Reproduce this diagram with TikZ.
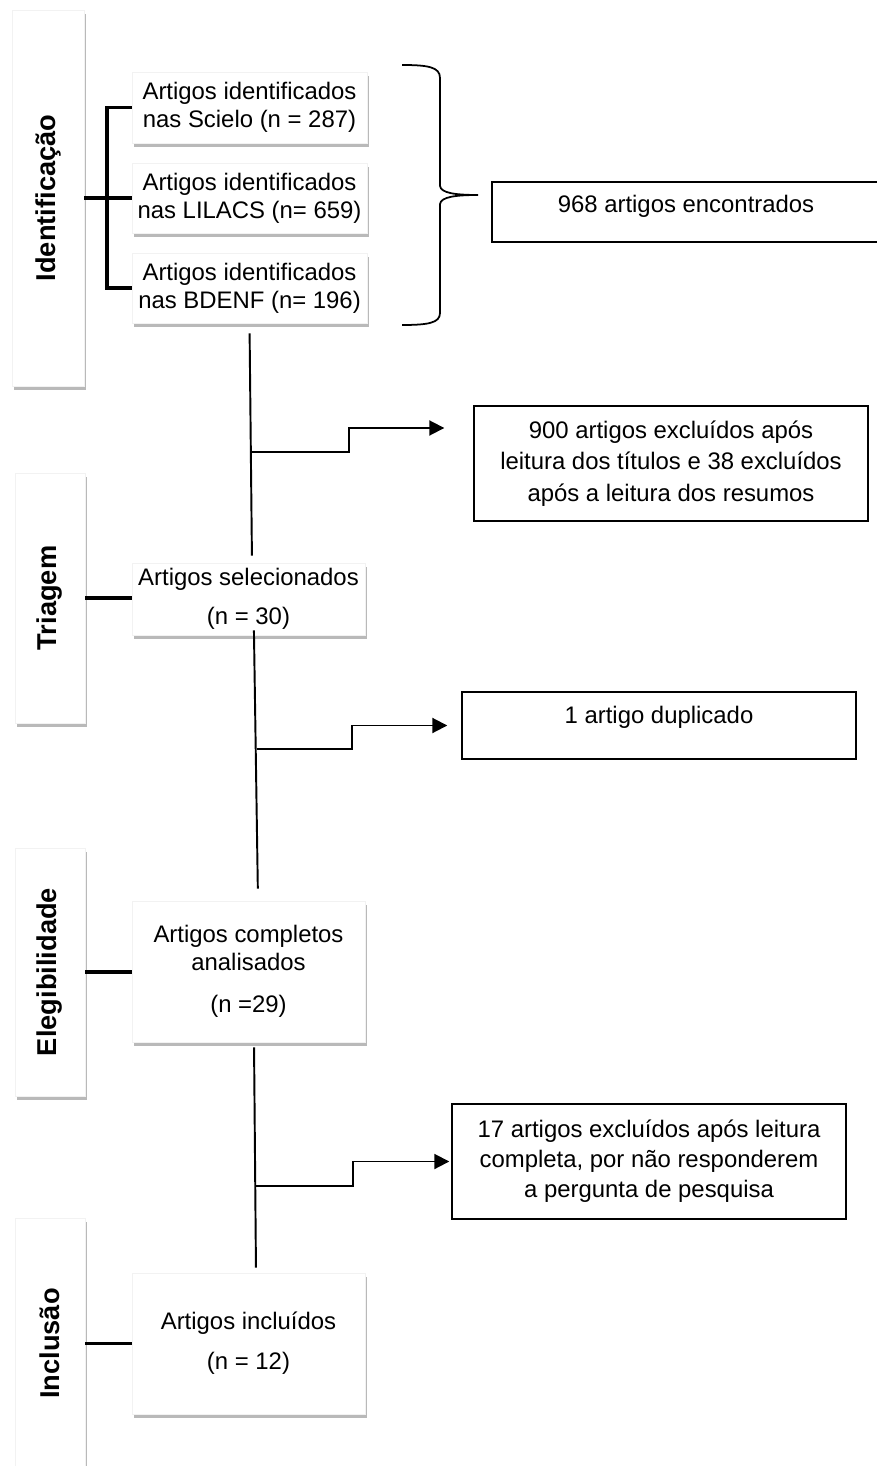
\documentclass[tikz,border=0pt]{standalone}
\usepackage{fontspec}
\setmainfont{Liberation Sans}
\usetikzlibrary{arrows.meta,positioning,shadows}
\tikzset{
  phase/.style ={fill=white, draw=black!5, minimum width=14mm, inner sep=0pt,
                 drop shadow={shadow xshift=0.4mm, shadow yshift=-0.8mm,
                 fill=black!50, opacity=0.55}},
  phtxt/.style ={rotate=90, inner sep=0pt,
                 font=\fontsize{15.5}{18}\selectfont\bfseries},
  src/.style   ={fill=white, draw=black!5, minimum width=47mm, inner sep=0pt,
                 align=center, font=\fontsize{13.6}{16}\selectfont,
                 drop shadow={shadow xshift=0.4mm, shadow yshift=-0.8mm,
                 fill=black!50, opacity=0.55}},
  outbox/.style={draw, line width=0.8pt, minimum width=78.8mm, inner sep=0pt,
                 align=center, font=\fontsize{13.6}{16}\selectfont},
  bus/.style   ={line width=2.2pt},
  flow/.style  ={line width=1.1pt},
  exit/.style  ={-{Triangle[length=3mm,width=3mm]}, line width=1.1pt},
  brc/.style   ={line width=1pt},
}
\begin{document}
\begin{tikzpicture}[x=0.2mm, y=-0.2mm]
  \useasboundingbox (0,0) rectangle (876,1466);
  % ---- phase column
  \node[phase, minimum width=14.4mm, minimum height=75.2mm] (pId) at (48,198) {};
  \node[phtxt] (tId) at (pId.center) {Identificação};
  \node[phase, minimum height=50mm] (pTri) at (50,598) {};
  \node[phtxt] (tTri) at (pTri.center) {Triagem};
  \node[phase, minimum height=49.6mm] (pEle) at (50,972) {};
  \node[phtxt] (tEle) at (pEle.center) {Elegibilidade};
  \node[phase, minimum height=52.4mm] (pInc) at (50,1349) {};
  \node[phtxt] (tInc) at (50,1343.5) {Inclusão};
  % ---- identification: three databases
  \node[src, minimum height=14.2mm] (sci) at (249.5,107.5)
    {Artigos identificados\\nas Scielo (n = 287)};
  \node[src, minimum height=14mm] (lil) at (249.5,198)
    {Artigos identificados\\nas LILACS (n= 659)};
  \node[src, minimum height=14mm] (bde) at (249.5,288)
    {Artigos identificados\\nas BDENF (n= 196)};
  \coordinate (jId) at (107,198);
  \draw[bus] (pId.east) -- (lil.west);
  \draw[bus] (sci.west) -| (jId) |- (bde.west);
  \draw[brc] (402,65) .. controls (428,65) and (440,67) .. (440,78)
    -- (440,186) .. controls (441,193) and (455,195) .. (478,195)
    .. controls (455,195) and (441,197) .. (440,204)
    -- (440,313) .. controls (440,323) and (428,325) .. (402,325);
  \node[outbox, minimum width=77.6mm, minimum height=12mm,
        text height=9.9pt, text depth=9.7pt] (fnd) at (686,212)
    {968 artigos encontrados};
  % ---- screening
  \node[src, minimum width=46.6mm, minimum height=14.4mm] (sel) at (248.5,599)
    {Artigos selecionados\\[6.1pt](n = 30)};
  \draw[bus] (pTri.east) -- (pTri.east -| sel.west);
  \node[outbox, minimum height=23mm] (exc1) at (671,463.5)
    {900 artigos excluídos após\\[1.9pt]leitura dos títulos e 38 excluídos\\[1.9pt]após a leitura dos resumos};
  \draw[flow, shorten <=2mm, shorten >=1.4mm] (bde.south) -- ([xshift=0.7mm]sel.north);
  \coordinate (j1) at (250.5,452);
  \coordinate (k1) at (349,428);
  \draw[exit, shorten >=5.8mm] (j1) -| (k1) -- (k1 -| exc1.west);
  % ---- eligibility
  \node[src, minimum width=46.6mm, minimum height=28.2mm] (com) at (248.5,971.5)
    {Artigos completos\\analisados\\[7.8pt](n =29)};
  \draw[bus] (pEle.east) -- (pEle.east -| com.west);
  \node[outbox, minimum height=13.4mm,
        text height=9.9pt, text depth=12.5pt] (dup) at (659,725.5)
    {1 artigo duplicado};
  \draw[flow, shorten <=-1mm, shorten >=2.4mm] ([xshift=1.1mm]sel.south) -- ([xshift=1.9mm]com.north);
  \coordinate (j2) at (256.5,749);
  \coordinate (k2) at (352,725.5);
  \draw[exit, shorten >=2.8mm] (j2) -| (k2) -- (dup.west);
  % ---- inclusion
  \node[src, minimum width=46.6mm, minimum height=28.2mm] (inc) at (248.5,1343.5)
    {Artigos incluídos\\[6.7pt](n = 12)};
  \draw[bus] (pInc.east |- inc.west) -- (inc.west);
  \node[outbox, minimum height=23mm] (exc3) at (649,1161.5)
    {17 artigos excluídos após leitura\\[1pt]completa, por não responderem\\[1pt]a pergunta de pesquisa};
  \draw[flow, shorten <=1mm, shorten >=1mm] ([xshift=1.1mm]com.south) -- ([xshift=1.5mm]inc.north);
  \coordinate (j3) at (255.5,1186);
  \coordinate (k3) at (353,1161.5);
  \draw[exit, shorten >=0.4mm] (j3) -| (k3) -- (exc3.west);
\end{tikzpicture}
\end{document}
